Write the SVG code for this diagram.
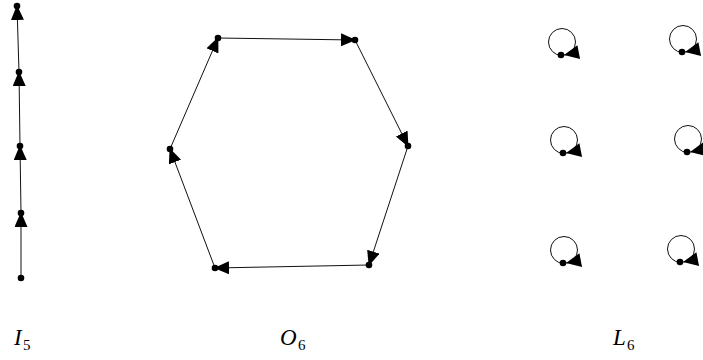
<svg xmlns="http://www.w3.org/2000/svg" xmlns:xlink="http://www.w3.org/1999/xlink" width="703" height="360" viewBox="0 0 703 360">
<style>
.e{stroke:#111;stroke-width:1;fill:none}
.n{fill:#000}
.lbl{font-family:"Liberation Serif",serif;font-style:italic;font-size:23px;fill:#000}
.sub{font-family:"Liberation Serif",serif;font-size:15px;fill:#000}
</style>
<defs>
<marker id="arr" markerUnits="userSpaceOnUse" markerWidth="16" markerHeight="14" refX="14" refY="6.5" orient="auto" viewBox="0 0 16 14">
<path d="M0,0 L15,6.5 L0,13 z" fill="#000"/>
</marker>
<path id="ah" d="M0,0 L-15,-7 L-15,7 z" fill="#000"/>
</defs>
<rect width="703" height="360" fill="#fff"/>
<g id="connectors">
<line class="e" x1="19" y1="72" x2="17" y2="6" marker-end="url(#arr)"/>
<line class="e" x1="20" y1="146" x2="19" y2="72" marker-end="url(#arr)"/>
<line class="e" x1="21" y1="213" x2="20" y2="146" marker-end="url(#arr)"/>
<line class="e" x1="21" y1="278" x2="21" y2="213" marker-end="url(#arr)"/>
<line class="e" x1="218" y1="38" x2="355" y2="40" marker-end="url(#arr)"/>
<line class="e" x1="355" y1="40" x2="408" y2="146" marker-end="url(#arr)"/>
<line class="e" x1="408" y1="146" x2="369" y2="265" marker-end="url(#arr)"/>
<line class="e" x1="369" y1="265" x2="215" y2="268" marker-end="url(#arr)"/>
<line class="e" x1="215" y1="268" x2="170" y2="149" marker-end="url(#arr)"/>
<line class="e" x1="170" y1="149" x2="218" y2="38" marker-end="url(#arr)"/>
<circle class="e" cx="562" cy="42" r="13.5"/>
<use xlink:href="#ah" transform="translate(564,55) rotate(169)"/>
<circle class="e" cx="683" cy="39" r="13.5"/>
<use xlink:href="#ah" transform="translate(685,52) rotate(169)"/>
<circle class="e" cx="564" cy="140" r="13.5"/>
<use xlink:href="#ah" transform="translate(566,153) rotate(169)"/>
<circle class="e" cx="688" cy="139" r="13.5"/>
<use xlink:href="#ah" transform="translate(690,152) rotate(169)"/>
<circle class="e" cx="564" cy="250" r="13.5"/>
<use xlink:href="#ah" transform="translate(566,263) rotate(169)"/>
<circle class="e" cx="681" cy="249" r="13.5"/>
<use xlink:href="#ah" transform="translate(683,262) rotate(169)"/>
</g>
<g id="I5">
<g id="i1"><circle class="n" cx="17" cy="6" r="3.3"/></g>
<g id="i2"><circle class="n" cx="19" cy="72" r="3.3"/></g>
<g id="i3"><circle class="n" cx="20" cy="146" r="3.3"/></g>
<g id="i4"><circle class="n" cx="21" cy="213" r="3.3"/></g>
<g id="i5"><circle class="n" cx="21" cy="278" r="3.3"/></g>
</g>
<g id="O6">
<g id="o1"><circle class="n" cx="218" cy="38" r="3.3"/></g>
<g id="o2"><circle class="n" cx="355" cy="40" r="3.3"/></g>
<g id="o3"><circle class="n" cx="408" cy="146" r="3.3"/></g>
<g id="o4"><circle class="n" cx="369" cy="265" r="3.3"/></g>
<g id="o5"><circle class="n" cx="215" cy="268" r="3.3"/></g>
<g id="o6"><circle class="n" cx="170" cy="149" r="3.3"/></g>
</g>
<g id="L6">
<g id="l1"><circle class="n" cx="561" cy="55" r="3.3"/></g>
<g id="l2"><circle class="n" cx="682" cy="52" r="3.3"/></g>
<g id="l3"><circle class="n" cx="563" cy="153" r="3.3"/></g>
<g id="l4"><circle class="n" cx="687" cy="152" r="3.3"/></g>
<g id="l5"><circle class="n" cx="563" cy="263" r="3.3"/></g>
<g id="l6"><circle class="n" cx="680" cy="262" r="3.3"/></g>
</g>
<g id="labels">
<text class="lbl" x="14" y="345">I</text><text class="sub" x="23" y="350">5</text>
<text class="lbl" x="280" y="345">O</text><text class="sub" x="298" y="350">6</text>
<text class="lbl" x="613" y="345">L</text><text class="sub" x="627" y="350">6</text>
</g>
</svg>
